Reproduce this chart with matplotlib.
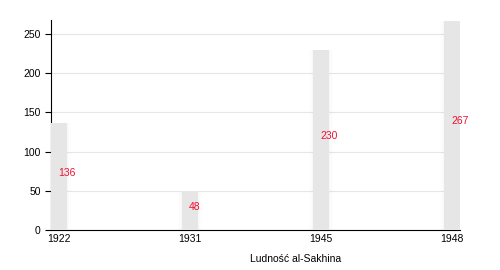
import matplotlib
matplotlib.use("Agg")
import matplotlib.pyplot as plt
import numpy as np

years = ["1922", "1931", "1945", "1948"]
population = [136, 48, 230, 267]
xlabel = "Ludność al-Sakhina"

plt.rcParams['font.family'] = ['Liberation Sans', 'DejaVu Sans']

fig = plt.figure(figsize=(5, 2.7), dpi=100)
ax = fig.add_axes([0.102, 0.148, 0.818, 0.778])

x = np.arange(len(years))
w = 0.12
# soft shadow
for k, a in [(0.06, 0.02), (0.04, 0.025), (0.02, 0.035)]:
    ax.bar(x, population, width=w + k, color='#aaaaaa', alpha=a, zorder=2, linewidth=0)
ax.bar(x, population, width=w, color='#e6e6e6', zorder=3, linewidth=0)

for xi, v in zip(x, population):
    ax.annotate(str(v), (xi, v / 2), xytext=(-1, 4), textcoords='offset pixels',
                ha='left', va='center', color='#ee1133', fontsize=7.5, zorder=4)

ax.set_xlim(-w / 2, len(years) - 1 + w / 2)
ax.set_ylim(0, 268)
ax.set_yticks([0, 50, 100, 150, 200, 250])
ax.set_xticks(x)
ax.set_xticklabels(years)
ax.grid(axis='y', color='#e6e6e6', linewidth=0.8, zorder=1)
ax.set_axisbelow(True)
for s in ['top', 'right']:
    ax.spines[s].set_visible(False)
ax.spines['left'].set_linewidth(0.8)
ax.spines['bottom'].set_linewidth(0.8)
ax.tick_params(axis='x', length=0, pad=3, labelsize=7.5)
ax.tick_params(axis='y', length=4, width=0.8, labelsize=7.5)

fig.text(296 / 500, 1 - 259 / 270, xlabel, ha='center', va='center', fontsize=7.5)

fig.savefig("out.png", dpi=100)
